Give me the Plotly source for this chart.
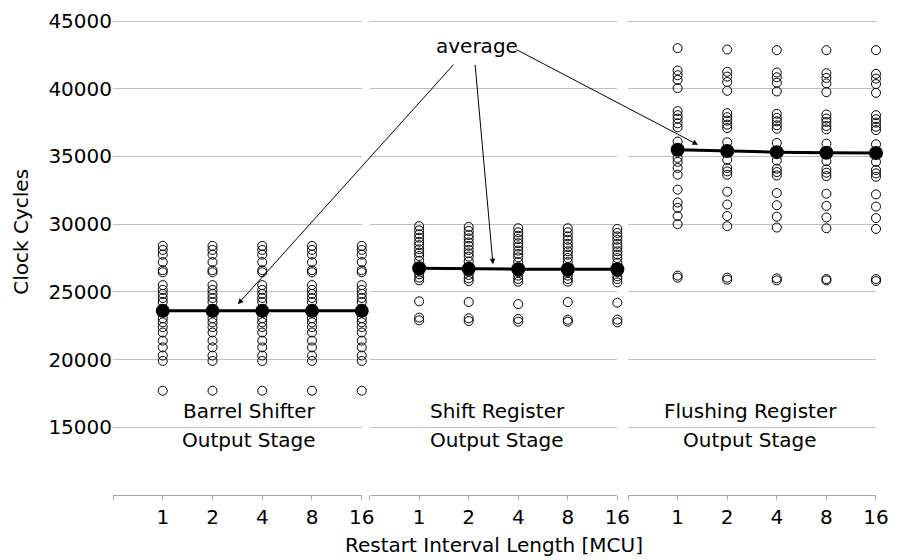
import plotly.graph_objects as go

# ---------------- data ----------------
intervals = ["1", "2", "4", "8", "16"]
panel_top = ["Barrel Shifter", "Shift Register", "Flushing Register"]
panel_bottom = ["Output Stage", "Output Stage", "Output Stage"]

barrel_col = [28400, 28100, 27750, 27200, 26600, 26450, 25500, 25150, 24850, 24550,
              24250, 23050, 22750, 22400, 22000, 21400, 20900, 20300, 19900, 17700]
barrel_runs = [barrel_col, barrel_col, barrel_col, barrel_col, barrel_col]

shift_runs = [
    [29850, 29550, 29250, 29000, 28700, 28450, 28150, 27900, 27650, 27300, 26550, 26300, 26050, 25850, 24300, 23100, 22900],
    [29800, 29500, 29200, 28950, 28650, 28400, 28100, 27850, 27600, 27250, 26500, 26250, 26000, 25800, 24250, 23050, 22850],
    [29700, 29400, 29150, 28900, 28600, 28350, 28050, 27800, 27550, 27200, 26450, 26200, 25950, 25750, 24100, 23000, 22800],
    [29700, 29400, 29100, 28850, 28550, 28300, 28000, 27750, 27500, 27200, 26450, 26200, 25950, 25750, 24250, 22950, 22800],
    [29650, 29350, 29100, 28850, 28550, 28300, 28000, 27750, 27500, 27150, 26450, 26150, 25950, 25700, 24200, 22950, 22750],
]

flush_runs = [
    [43000, 41350, 41000, 40650, 40050, 38350, 38050, 37800, 37450, 37150, 36100, 34900, 34600, 34150, 33650, 32550, 31600, 31200, 30600, 30000, 26200, 26050],
    [42900, 41250, 40900, 40500, 39850, 38200, 37900, 37650, 37350, 37100, 36050, 34750, 34150, 33900, 33650, 32400, 31450, 30600, 29850, 26050, 25900],
    [42850, 41200, 40850, 40450, 39800, 38150, 37850, 37600, 37300, 37050, 36000, 34700, 34100, 33850, 33600, 32300, 31400, 30550, 29750, 26000, 25850],
    [42850, 41150, 40800, 40400, 39750, 38100, 37800, 37550, 37250, 37000, 35950, 34650, 34050, 33800, 33550, 32250, 31350, 30500, 29700, 25950, 25850],
    [42850, 41100, 40750, 40350, 39700, 38050, 37750, 37500, 37200, 36950, 35900, 34600, 34000, 33750, 33500, 32200, 31300, 30450, 29650, 25950, 25800],
]

barrel_avg = [23600, 23600, 23600, 23600, 23600]
shift_avg = [26750, 26700, 26680, 26670, 26670]
flush_avg = [35500, 35400, 35320, 35280, 35260]

y_ticks = [15000, 20000, 25000, 30000, 35000, 40000, 45000]
y_labels = ["15000", "20000", "25000", "30000", "35000", "40000", "45000"]

# ---------------- figure ----------------
FONT = "DejaVu Sans"
FS = 20
GRID = "#bfbfbf"
AXIS = "#a6a6a6"

fig = go.Figure()

panels = [(barrel_runs, barrel_avg), (shift_runs, shift_avg), (flush_runs, flush_avg)]
for p, (runs, avg) in enumerate(panels):
    xa = "x" if p == 0 else f"x{p + 1}"
    xs, ys = [], []
    for i, col in enumerate(runs):
        xs += [i + 1] * len(col)
        ys += col
    fig.add_trace(go.Scatter(
        x=xs, y=ys, mode="markers", xaxis=xa, yaxis="y", cliponaxis=False,
        marker=dict(symbol="circle-open", size=9, color="black", line=dict(width=1)),
        showlegend=False, hoverinfo="skip"))
    fig.add_trace(go.Scatter(
        x=[i + 1 for i in range(len(avg))], y=avg, mode="lines+markers",
        xaxis=xa, yaxis="y", cliponaxis=False,
        line=dict(color="black", width=3),
        marker=dict(symbol="circle", size=14, color="black"),
        showlegend=False, hoverinfo="skip"))

domains = [[0.0, 0.326], [0.3363, 0.661], [0.675, 1.0]]
tickvals = list(range(len(intervals) + 1))
ticktext = [""] + intervals
for p in range(3):
    key = "xaxis" if p == 0 else f"xaxis{p + 1}"
    fig.layout[key] = dict(
        domain=domains[p], range=[0, len(intervals)], anchor="y",
        tickmode="array", tickvals=tickvals, ticktext=ticktext,
        showgrid=False, zeroline=False, showline=True, linecolor=AXIS, linewidth=1,
        ticks="outside", ticklen=4, tickcolor=AXIS,
        tickfont=dict(family=FONT, size=FS, color="black"),
    )

fig.update_layout(
    yaxis=dict(
        range=[10000, 45300], tickmode="array", tickvals=y_ticks, ticktext=y_labels,
        tickfont=dict(family=FONT, size=FS, color="black"),
        showgrid=True, gridcolor=GRID, gridwidth=1, zeroline=False,
        showline=False, ticks="",
        anchor="x",
    ),
    width=898, height=560,
    margin=dict(l=113, r=9, t=15, b=65),
    plot_bgcolor="white", paper_bgcolor="white",
    font=dict(family=FONT, size=FS, color="black"),
)

# panel labels
label_x = [0.547, 0.515, 0.493]
for p in range(3):
    xa = "x" if p == 0 else f"x{p + 1}"
    fig.add_annotation(text=panel_top[p], xref=f"{xa} domain", yref="y", x=label_x[p], y=16200,
                       showarrow=False, font=dict(family=FONT, size=FS, color="black"))
    fig.add_annotation(text=panel_bottom[p], xref=f"{xa} domain", yref="y", x=label_x[p], y=14050,
                       showarrow=False, font=dict(family=FONT, size=FS, color="black"))

# axis titles
fig.add_annotation(text="Clock Cycles", xref="paper", yref="paper", x=-0.1198, y=0.55,
                   textangle=-90, showarrow=False, xanchor="center", yanchor="middle",
                   font=dict(family=FONT, size=FS, color="black"))
fig.add_annotation(text="Restart Interval Length [MCU]", xref="paper", yref="paper",
                   x=0.4987, y=-0.104, showarrow=False, xanchor="center", yanchor="middle",
                   font=dict(family=FONT, size=FS, color="black"))

# "average" callout
fig.add_annotation(text="average", xref="paper", yref="paper", x=0.4768, y=0.9396,
                   showarrow=False, xanchor="center", yanchor="middle",
                   font=dict(family=FONT, size=FS, color="black"))
arrows = [("x", 2.51, 24095, 217, -241), ("x2", 2.49, 27036, -18, -201), ("x3", 1.41, 35860, -183, -96)]
for xa, hx, hy, ax, ay in arrows:
    fig.add_annotation(text="", xref=xa, yref="y", x=hx, y=hy, ax=ax, ay=ay,
                       showarrow=True, arrowhead=2, arrowsize=1.1, arrowwidth=1,
                       arrowcolor="black", standoff=0)

fig.write_html("out.html")
